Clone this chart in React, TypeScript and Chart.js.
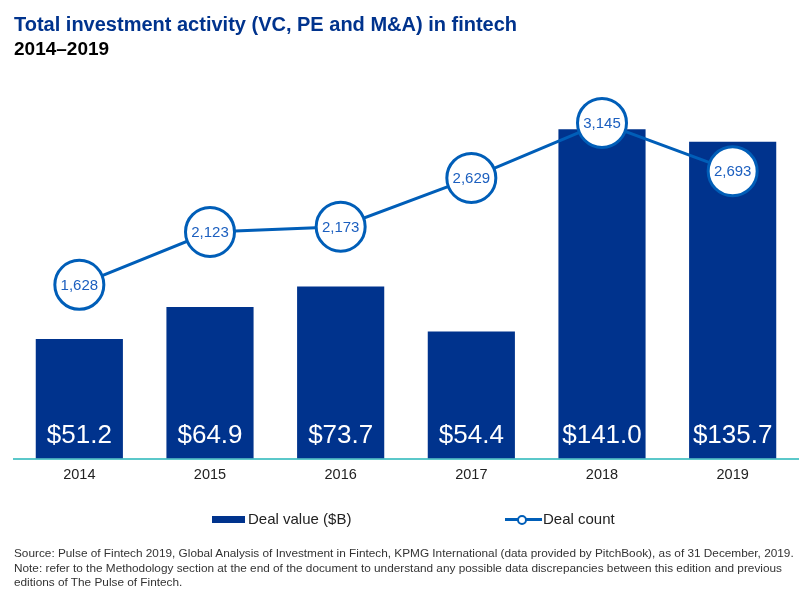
import React, { useEffect, useRef } from "react";
import { Chart, registerables } from "chart.js";

Chart.register(...registerables);

const years = ["2014", "2015", "2016", "2017", "2018", "2019"];
const dealValue = [51.2, 64.9, 73.7, 54.4, 141.0, 135.7];
const dealCount = [1628, 2123, 2173, 2629, 3145, 2693];

const NAVY = "#00338D";
const MID = "#005EB8";
const TEAL = "#5BC8CA";
const FONT = "'Liberation Sans', Arial, sans-serif";

const labelPlugin = {
  id: "valueLabels",
  afterDatasetsDraw(chart: any) {
    const ctx = chart.ctx;
    ctx.save();
    const barMeta = chart.getDatasetMeta(0);
    ctx.font = `26px ${FONT}`;
    ctx.fillStyle = "#FFFFFF";
    ctx.textAlign = "center";
    ctx.textBaseline = "alphabetic";
    barMeta.data.forEach((el: any, i: number) => {
      ctx.fillText("$" + dealValue[i].toFixed(1), el.x, el.base - 15.5);
    });
    const lineMeta = chart.getDatasetMeta(1);
    ctx.font = `15px ${FONT}`;
    ctx.fillStyle = "#1C5FBF";
    ctx.textBaseline = "middle";
    lineMeta.data.forEach((el: any, i: number) => {
      ctx.fillText(dealCount[i].toLocaleString("en-US"), el.x, el.y + 1);
    });
    ctx.restore();
  },
};

export default function App() {
  const ref = useRef<HTMLCanvasElement>(null);
  useEffect(() => {
    if (!ref.current) return;
    const chart = new Chart(ref.current, {
      type: "bar",
      data: {
        labels: years,
        datasets: [
          {
            type: "bar",
            label: "Deal value ($B)",
            data: dealValue,
            backgroundColor: NAVY,
            borderWidth: 0,
            yAxisID: "y",
            order: 2,
            categoryPercentage: 1,
            barPercentage: 0.667,
          },
          {
            type: "line",
            label: "Deal count",
            data: dealCount,
            borderColor: MID,
            borderWidth: 3,
            pointRadius: 24.5,
            pointBorderWidth: 3,
            pointBackgroundColor: "#FFFFFF",
            pointBorderColor: MID,
            yAxisID: "y1",
            order: 1,
            clip: false as any,
            tension: 0,
          },
        ],
      },
      options: {
        responsive: false,
        animation: false,
        devicePixelRatio: 1,
        layout: { autoPadding: false, padding: { left: 14, right: 14, top: 85, bottom: 112 } },
        plugins: {
          legend: { display: false },
          tooltip: { enabled: false },
        },
        scales: {
          x: {
            offset: true,
            grid: { display: false, drawTicks: false },
            border: { display: true, color: TEAL, width: 2 },
            ticks: {
              color: "#222222",
              font: { family: FONT, size: 14.5 },
              padding: 8,
            },
          },
          y: { display: false, min: 0, max: 160 },
          y1: { display: false, min: 0, max: 3500, position: "right" },
        },
      },
      plugins: [labelPlugin],
    });
    return () => chart.destroy();
  }, []);

  return (
    <div
      style={{
        position: "absolute",
        left: 0,
        top: 0,
        width: 812,
        height: 604,
        background: "#FFFFFF",
        fontFamily: FONT,
        overflow: "hidden",
      }}
    >
      <canvas ref={ref} width={812} height={604} style={{ position: "absolute", left: 0, top: 0, width: 812, height: 604 }} />
      <div style={{ position: "absolute", left: 14, top: 14, fontSize: 20, lineHeight: "20px", fontWeight: "bold", color: NAVY, whiteSpace: "nowrap" }}>
        Total investment activity (VC, PE and M&amp;A) in fintech
      </div>
      <div style={{ position: "absolute", left: 14, top: 39, fontSize: 19, lineHeight: "19px", fontWeight: "bold", color: "#000000", whiteSpace: "nowrap" }}>
        2014–2019
      </div>
      <div style={{ position: "absolute", left: 212, top: 516, width: 33, height: 7, background: NAVY }} />
      <div style={{ position: "absolute", left: 248, top: 510, fontSize: 15, lineHeight: "18px", color: "#222222", whiteSpace: "nowrap" }}>
        Deal value ($B)
      </div>
      <div style={{ position: "absolute", left: 505, top: 518, width: 37, height: 3, background: MID }} />
      <div style={{ position: "absolute", left: 517, top: 515, width: 6, height: 6, borderRadius: "50%", border: `2px solid ${MID}`, background: "#FFFFFF" }} />
      <div style={{ position: "absolute", left: 543, top: 510, fontSize: 15, lineHeight: "18px", color: "#222222", whiteSpace: "nowrap" }}>
        Deal count
      </div>
      <div style={{ position: "absolute", left: 14, top: 546, fontSize: 11.8, lineHeight: "14.5px", color: "#333333", whiteSpace: "nowrap" }}>
        Source: Pulse of Fintech 2019, Global Analysis of Investment in Fintech, KPMG International (data provided by PitchBook), as of 31 December, 2019.
        <br />
        Note: refer to the Methodology section at the end of the document to understand any possible data discrepancies between this edition and previous
        <br />
        editions of The Pulse of Fintech.
      </div>
    </div>
  );
}
